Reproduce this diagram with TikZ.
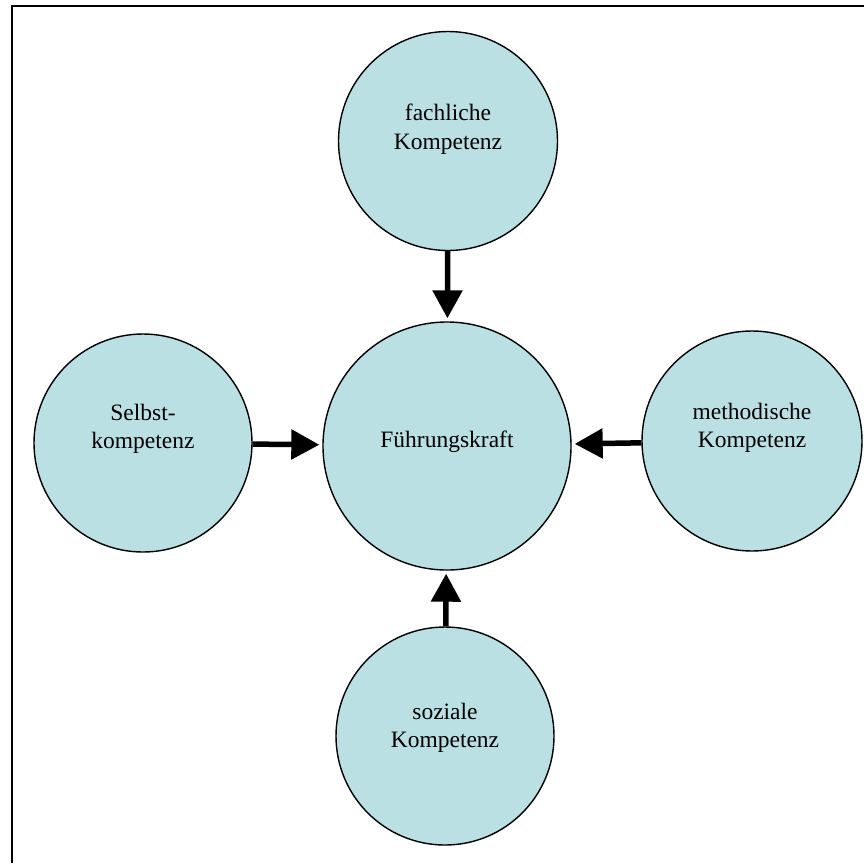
\documentclass[tikz,border=0pt]{standalone}
\usepackage{fontspec}
\setmainfont{Liberation Serif}
\usetikzlibrary{arrows.meta}
\definecolor{kreis}{RGB}{187,224,227}
\tikzset{
  komp/.style={circle, draw=black, line width=1.4pt, fill=kreis, inner sep=0pt},
  komptext/.style={align=center, inner sep=0pt, font=\fontsize{23.5}{28.5}\selectfont},
  pfeil/.style={line width=5.5pt, -{Triangle[length=28pt,width=29pt]}, shorten >=3pt},
  rahmen/.style={line width=2pt, black}
}
\begin{document}
\begin{tikzpicture}[x=1pt,y=-1pt]
  \useasboundingbox (0,0) rectangle (864,863);
  % frame
  \coordinate (rl) at (12,863);
  \coordinate (ro) at (12,6);
  \coordinate (rr) at (864,6);
  \draw[rahmen] (rl) -- (ro) -- (rr);
  % circles with their labels
  \node[komp, minimum size=248pt,
    label={[komptext, yshift=4pt]center:Führungskraft}] (mitte) at (447,446) {};
  \node[komp, minimum size=219pt,
    label={[komptext, yshift=12pt]center:{fachliche\\Kompetenz}}] (oben) at (448,141) {};
  \node[komp, minimum size=218pt,
    label={[komptext, yshift=14pt]center:{Selbst-\\kompetenz}}] (links) at (143,443) {};
  \node[komp, minimum size=220pt,
    label={[komptext, yshift=13pt]center:{methodische\\Kompetenz}}] (rechts) at (752,441) {};
  \node[komp, minimum size=218pt,
    label={[komptext, yshift=8pt]center:{soziale\\Kompetenz}}] (unten) at (445,736) {};
  % arrows
  \draw[pfeil] (oben) -- (mitte);
  \draw[pfeil] (links) -- (mitte);
  \draw[pfeil] (rechts) -- (mitte);
  \draw[pfeil] (unten) -- (mitte);
\end{tikzpicture}
\end{document}
